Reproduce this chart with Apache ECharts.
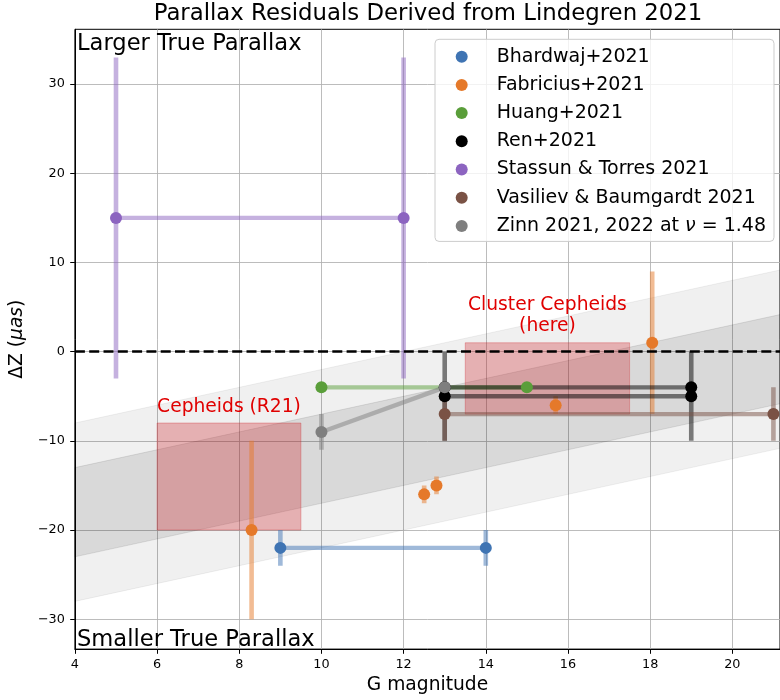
<!DOCTYPE html>
<html><head><meta charset="utf-8">
<script src="https://cdn.jsdelivr.net/npm/echarts@6/dist/echarts.min.js"></script>
<style>html,body{margin:0;padding:0;background:#fff}#c{width:780px;height:700px}</style>
</head><body><div id="c"></div>
<script>
const FONT = 'DejaVu Sans';
// tick labels
const xTicks = [4, 6, 8, 10, 12, 14, 16, 18, 20];
const yTicks = [-30, -20, -10, 0, 10, 20, 30];
// legend / series names
const names = ['Bhardwaj+2021', 'Fabricius+2021', 'Huang+2021', 'Ren+2021', 'Stassun & Torres 2021', 'Vasiliev & Baumgardt 2021', 'Zinn 2021, 2022 at ν = 1.48'];
const colors = ['#3f74b3', '#e5792a', '#5a9e3a', '#000000', '#8c64c0', '#7a5245', '#7f7f7f'];
// series values (G magnitude, ΔZ, ΔZ error)
const bhardwajX = [9, 14], bhardwajY = [-22, -22], bhardwajErr = [2, 2];
const fabriciusX = [8.3, 12.5, 12.8, 15.7, 18.05], fabriciusY = [-20, -16, -15, -6, 1], fabriciusErr = [10, 1, 1, 1, 8];
const huangX = [10, 15], huangY = [-4, -4], huangErr = [0, 0];
const renAX = [13, 19], renAY = [-4, -4], renAErr = [0, 0];
const renBX = [13, 19], renBY = [-5, -5], renBErr = [5, 5];
const stassunX = [5, 12], stassunY = [15, 15], stassunErr = [18, 18];
const vasilievX = [13, 21], vasilievY = [-7, -7], vasilievErr = [3, 3];
const zinnX = [10, 13], zinnY = [-9, -4], zinnErr = [2, 0];
// shaded bands (edges at two magnitudes)
const bandX = [4, 22];
const outerLow = [-28, -10], outerHigh = [-8, 10];
const innerLow = [-23, -5], innerHigh = [-13, 5];
// highlighted regions [x0, x1, y0, y1]
const boxes = [[6, 9.5, -20, -8], [13.5, 17.5, -7, 1]];
const boxTexts = ['Cepheids (R21)', 'Cluster Cepheids\n(here)'];
const boxTextPos = [[6, -7.4], [15.5, 1.7]];
const boxTextAlign = ['left', 'center'];
const zeroLine = 0;

const zip = (a, b) => a.map((v, i) => [v, b[i]]);
const zip3 = (a, b, c) => a.map((v, i) => [v, b[i], c[i]]);

function errSeries(name, color, xs, ys, es) {
  return {
    type: 'custom', name: name + ' err', data: zip3(xs, ys, es), encode: {x: 0, y: 1},
    silent: true, animation: false, clip: true,
    renderItem: (p, api) => {
      const x = api.value(0), y = api.value(1), e = api.value(2);
      if (!e) return null;
      const a = api.coord([x, y - e]), b = api.coord([x, y + e]);
      return {type: 'line', shape: {x1: a[0], y1: a[1], x2: b[0], y2: b[1]},
        style: {stroke: color, lineWidth: 4.6, opacity: 0.5}};
    }
  };
}
function lineSeries(name, color, xs, ys) {
  return {
    type: 'line', name: name, data: zip(xs, ys), symbol: 'circle', symbolSize: 12,
    itemStyle: {color: color, opacity: 1}, lineStyle: {color: color, width: 4.4, opacity: 0.5},
    animation: false, silent: true, z: 3
  };
}
function bandSeries(low, high, fill) {
  return {
    type: 'custom', data: [[bandX[0], low[0], high[0]], [bandX[1], low[1], high[1]]], encode: {x: 0, y: 1},
    clip: true, silent: true, animation: false, z: 1,
    renderItem: (p, api) => {
      if (p.dataIndex !== 0) return null;
      const pts = [api.coord([bandX[0], low[0]]), api.coord([bandX[1], low[1]]), api.coord([bandX[1], high[1]]), api.coord([bandX[0], high[0]])];
      return {type: 'polygon', shape: {points: pts}, style: {fill: fill, stroke: fill, lineWidth: 1}};
    }
  };
}

const series = [
  bandSeries(outerLow, outerHigh, 'rgba(0,0,0,0.06)'),
  bandSeries(innerLow, innerHigh, 'rgba(0,0,0,0.095)'),
  {
    type: 'custom', data: boxes, encode: {x: 0, y: 2}, silent: true, animation: false, clip: true, z: 1,
    renderItem: (p, api) => {
      const b = boxes[p.dataIndex];
      const a = api.coord([b[0], b[3]]), c = api.coord([b[1], b[2]]);
      return {type: 'rect', shape: {x: a[0], y: a[1], width: c[0] - a[0], height: c[1] - a[1]},
        style: {fill: 'rgba(205,30,35,0.3)', stroke: 'rgba(205,30,35,0.3)', lineWidth: 1}};
    }
  },
  {
    type: 'custom', data: boxTextPos, encode: {x: 0, y: 1}, silent: true, animation: false, z: 1,
    renderItem: (p, api) => {
      const pt = api.coord(boxTextPos[p.dataIndex]);
      return {type: 'text', x: pt[0], y: pt[1],
        style: {text: boxTexts[p.dataIndex], fill: '#e00000', font: '18.7px "DejaVu Sans"', align: boxTextAlign[p.dataIndex], verticalAlign: 'bottom', lineHeight: 21}};
    }
  },
  errSeries(names[0], colors[0], bhardwajX, bhardwajY, bhardwajErr),
  lineSeries(names[0], colors[0], bhardwajX, bhardwajY),
  errSeries(names[1], colors[1], fabriciusX, fabriciusY, fabriciusErr),
  {type: 'scatter', name: names[1], data: zip(fabriciusX, fabriciusY), symbol: 'circle', symbolSize: 12,
    itemStyle: {color: colors[1], opacity: 1}, animation: false, silent: true, z: 3},
  errSeries(names[2], colors[2], huangX, huangY, huangErr),
  lineSeries(names[2], colors[2], huangX, huangY),
  errSeries(names[3], colors[3], renAX, renAY, renAErr),
  lineSeries(names[3], colors[3], renAX, renAY),
  errSeries(names[3], colors[3], renBX, renBY, renBErr),
  lineSeries(names[3], colors[3], renBX, renBY),
  errSeries(names[4], colors[4], stassunX, stassunY, stassunErr),
  lineSeries(names[4], colors[4], stassunX, stassunY),
  errSeries(names[5], colors[5], vasilievX, vasilievY, vasilievErr),
  lineSeries(names[5], colors[5], vasilievX, vasilievY),
  errSeries(names[6], colors[6], zinnX, zinnY, zinnErr),
  lineSeries(names[6], colors[6], zinnX, zinnY),
  {
    type: 'line', data: [], silent: true, animation: false, z: 4,
    markLine: {silent: true, symbol: 'none', animation: false, label: {show: false},
      lineStyle: {color: '#000', width: 2.7, type: [10, 4.3]}, data: [{yAxis: zeroLine}]}
  }
];

const minus = v => (v < 0 ? '\u2212' + Math.abs(v) : String(v));
const chart = echarts.init(document.getElementById('c'), null, {renderer: 'canvas'});
chart.setOption({
  backgroundColor: '#fff',
  animation: false,
  title: {text: 'Parallax Residuals Derived from Lindegren 2021', left: 428, top: 2.5, padding: 0, textAlign: 'center',
    textStyle: {fontFamily: FONT, fontSize: 22.8, fontWeight: 'normal', color: '#000'}},
  grid: {left: 72.5, top: 29.3, width: 711, height: 627.4, show: true, borderColor: '#000', borderWidth: 1, backgroundColor: 'transparent', containLabel: false},
  xAxis: {
    type: 'value', min: 4, max: 21.16, interval: 2,
    name: 'G magnitude', nameLocation: 'middle', nameGap: 23,
    nameTextStyle: {fontFamily: FONT, fontSize: 18.67, color: '#000'},
    axisLine: {onZero: false, lineStyle: {color: '#000', width: 1}},
    axisTick: {show: true, length: 4.7, lineStyle: {color: '#000', width: 1}},
    axisLabel: {showMaxLabel: false, margin: 9, fontFamily: FONT, fontSize: 12.8, color: '#000', formatter: minus},
    splitLine: {show: true, lineStyle: {color: '#b0b0b0', width: 1, opacity: 0.85}}
  },
  yAxis: {
    type: 'value', min: -33.35, max: 36.15,
    name: 'ΔZ ({i|μas})', nameLocation: 'middle', nameGap: 41,
    nameTextStyle: {fontFamily: FONT, fontSize: 18.67, color: '#000',
      rich: {i: {fontFamily: FONT, fontSize: 18.67, fontStyle: 'italic', color: '#000'}}},
    axisLine: {onZero: false, lineStyle: {color: '#000', width: 1}},
    axisTick: {show: true, length: 4.7, customValues: yTicks, lineStyle: {color: '#000', width: 1}},
    axisLabel: {customValues: yTicks, margin: 10, fontFamily: FONT, fontSize: 12.8, color: '#000', formatter: minus},
    splitLine: {show: true, lineStyle: {color: '#b0b0b0', width: 1, opacity: 0.85}}
  },
  legend: {
    orient: 'vertical', left: 435, top: 39.3, icon: 'circle', itemWidth: 12, itemHeight: 12, itemGap: 0.2,
    padding: [3.4, 8, 1.5, 20.7], backgroundColor: 'rgba(255,255,255,0.8)', borderColor: '#cccccc', borderWidth: 1, borderRadius: 4,
    selectedMode: false, data: names,
    formatter: n => n.indexOf('ν') >= 0 ? '{n|Zinn 2021, 2022 at }{i|ν}{n| = 1.48}' : '{n|' + n + '}',
    textStyle: {fontFamily: FONT, fontSize: 19, color: '#000', lineHeight: 28, padding: [0, 0, 0, 24],
      rich: {n: {fontFamily: FONT, fontSize: 19, color: '#000', lineHeight: 28},
             i: {fontFamily: FONT, fontSize: 19, fontStyle: 'italic', color: '#000', lineHeight: 28}}}
  },
  graphic: [
    {type: 'text', left: 77, top: 33, z: 5, style: {text: 'Larger True Parallax', font: '22.6px "DejaVu Sans"', fill: '#000'}},
    {type: 'text', left: 77, top: 629, z: 5, style: {text: 'Smaller True Parallax', font: '22.6px "DejaVu Sans"', fill: '#000'}}
  ],
  series: series
});
</script></body></html>
